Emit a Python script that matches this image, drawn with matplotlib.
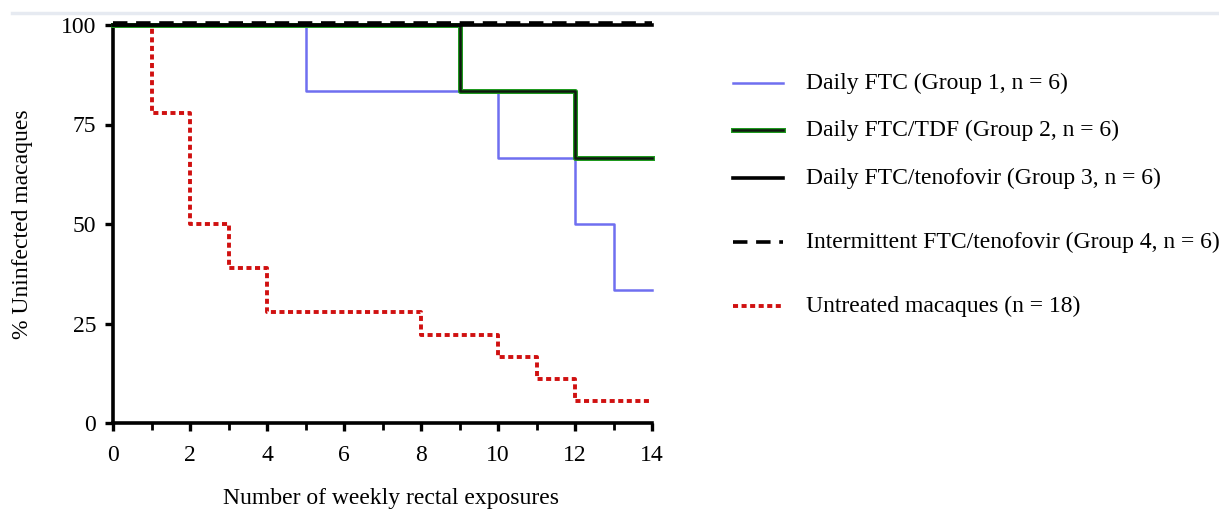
import matplotlib
matplotlib.use("Agg")
import matplotlib.pyplot as plt
import matplotlib.transforms as mtransforms
from matplotlib.lines import Line2D
import matplotlib.patheffects as pe

plt.rcParams['font.family'] = ['Liberation Serif', 'DejaVu Serif']

# Data (Kaplan-Meier style step curves): step x, % uninfected
g1_x = [0, 5, 10, 12, 13, 14]
g1_y = [100, 83.3, 66.7, 50.0, 33.3, 33.3]
g2_x = [0, 9, 12, 14]
g2_y = [100, 83.3, 66.7, 66.7]
g3_x = [0, 14]
g3_y = [100, 100]
g4_x = [0, 14]
g4_y = [100, 100]
un_x = [0, 1, 2, 3, 4, 8, 10, 11, 12, 14]
un_y = [100, 77.8, 50.0, 38.9, 27.8, 22.2, 16.7, 11.1, 5.6, 5.6]

labels = ["Daily FTC (Group 1, n = 6)",
          "Daily FTC/TDF (Group 2, n = 6)",
          "Daily FTC/tenofovir (Group 3, n = 6)",
          "Intermittent FTC/tenofovir (Group 4, n = 6)",
          "Untreated macaques (n = 18)"]

xticks = [0, 2, 4, 6, 8, 10, 12, 14]
yticks = [0, 25, 50, 75, 100]

W, H = 1219, 512
fig = plt.figure(figsize=(W / 100, H / 100), dpi=100)
ax = fig.add_axes([113 / W, 1 - 423 / H, (652 - 113) / W, (423 - 25) / H])

blue = '#6f6ff0'
green = '#1f9a1f'
red = '#d01010'
green_fx = [pe.Stroke(linewidth=3.6, foreground=green), pe.Normal()]

ax.step(un_x, un_y, where='post', color=red, lw=2.8, linestyle=(0, (1.3, 0.9)), clip_on=False, zorder=3)
ax.step(g1_x, g1_y, where='post', color=blue, lw=1.8, clip_on=False, zorder=4)
ax.step(g2_x, g2_y, where='post', color='#101810', lw=1.8, clip_on=False, zorder=5,
        path_effects=green_fx)
ax.step(g3_x, g3_y, where='post', color='black', lw=2.6, clip_on=False, zorder=6)
off = mtransforms.offset_copy(ax.transData, fig=fig, x=0, y=2, units='dots')
ax.step(g4_x, g4_y, where='post', color='black', lw=2.6, linestyle=(0, (4, 2.4)),
        clip_on=False, zorder=7, transform=off)

ax.set_xlim(0, 14)
ax.set_ylim(0, 100)
for s in ['top', 'right']:
    ax.spines[s].set_visible(False)
for s in ['left', 'bottom']:
    ax.spines[s].set_linewidth(2.6)
ax.set_xticks(xticks)
ax.set_xticks(range(0, 15), minor=True)
ax.set_yticks(yticks)
ax.tick_params(axis='both', which='major', direction='out', length=6, width=2.4, labelsize=17)
ax.tick_params(axis='x', which='minor', direction='out', length=5, width=2.0)
ax.tick_params(axis='x', which='major', pad=10)
ax.tick_params(axis='y', which='major', pad=6)
ax.set_xlabel("Number of weekly rectal exposures", fontsize=17)
ax.xaxis.set_label_coords((391 - 113) / 539, -(488 - 423) / 398)
ax.xaxis.label.set_va('top')
ax.set_ylabel("% Uninfected macaques", fontsize=17, labelpad=20)

# top light rule
fig.add_artist(Line2D([12 / W, 1.0], [1 - 13 / H, 1 - 13 / H], color='#e6eaf1', lw=2.5))

# manual legend
rows = [83, 130, 178, 242, 306]
styles = [dict(color=blue, lw=1.8),
          dict(color='#101810', lw=1.8, path_effects=green_fx),
          dict(color='black', lw=2.6),
          dict(color='black', lw=2.6, linestyle=(0, (4, 2.4))),
          dict(color=red, lw=2.8, linestyle=(0, (1.3, 0.9)))]
for r, st, lab in zip(rows, styles, labels):
    yy = 1 - r / H
    fig.add_artist(Line2D([733 / W, 783 / W], [yy, yy], **st))
    fig.text(806 / W, yy, lab, fontsize=17, va='center', ha='left')

fig.savefig("out.png", dpi=100)
